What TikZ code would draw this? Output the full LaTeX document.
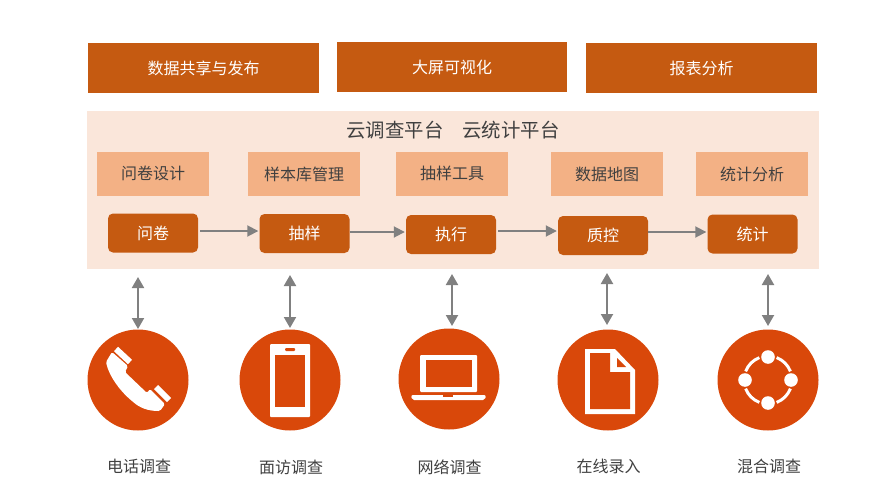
\documentclass[tikz,border=0pt]{standalone}
\usepackage{fontspec}
\setmainfont{Noto Sans CJK SC}
\usetikzlibrary{arrows.meta}
\definecolor{ocre}{RGB}{197,90,17}
\definecolor{pale}{RGB}{250,230,218}
\definecolor{peach}{RGB}{243,177,133}
\definecolor{brique}{RGB}{217,72,10}
\definecolor{fleche}{RGB}{128,128,128}
\definecolor{texte}{RGB}{64,64,64}
\tikzset{
  topbox/.style={fill=ocre,text=white,font=\fontsize{16}{16}\selectfont,inner sep=0pt,minimum width=230.5,minimum height=50},
  toolbox/.style={fill=peach,text=texte,font=\fontsize{16}{16}\selectfont,inner sep=0pt,minimum width=112,minimum height=44},
  stagebox/.style={fill=ocre,text=white,font=\fontsize{16}{16}\selectfont,inner sep=0pt,rounded corners=5,minimum width=90,minimum height=39},
  disc/.style={circle,fill=brique,inner sep=0pt,minimum size=101},
  caption/.style={text=texte,font=\fontsize{16}{16}\selectfont,inner sep=0pt},
  flow/.style={fleche,line width=1.8,-{Triangle[length=11,width=11]}},
  link/.style={fleche,line width=2,{Triangle[length=11,width=12]}-{Triangle[length=11,width=12]}}
}
\begin{document}
\begin{tikzpicture}[x=1pt,y=-1pt]
\useasboundingbox (0,0) rectangle (893,500);
% top row
\node [topbox] (share) at (203.5,68) {数据共享与发布};
\node [topbox] (screen) at (452,67) {大屏可视化};
\node [topbox] (report) at (701.5,68) {报表分析};
% platform
\fill [pale] (87,111) rectangle (819,269);
\node [text=texte,font=\fontsize{19.4}{19.4}\selectfont,inner sep=0pt] (platform) at (453,130) {云调查平台\hspace{19pt}云统计平台};
\node [toolbox] (design) at (153,173.5) {问卷设计};
\node [toolbox] (library) at (304,174) {样本库管理};
\node [toolbox] (tool) at (452,173.5) {抽样工具};
\node [toolbox] (map) at (607,174) {数据地图};
\node [toolbox] (stat) at (752,174) {统计分析};
\node [stagebox] (s1) at (153,233) {问卷};
\node [stagebox] (s2) at (304.5,233.5) {抽样};
\node [stagebox] (s3) at (451,234.5) {执行};
\node [stagebox] (s4) at (603,235.5) {质控};
\node [stagebox] (s5) at (752.5,234) {统计};
\draw [flow,shorten <=2,shorten >=1] (s1.east |- 0,231) -- (s2.west |- 0,231);
\draw [flow,shorten >=1] (s2.east |- 0,232) -- (s3.west |- 0,232);
\draw [flow,shorten <=2,shorten >=1] (s3.east |- 0,231) -- (s4.west |- 0,231);
\draw [flow,shorten >=1] (s4.east |- 0,232) -- (s5.west |- 0,232);
% discs
\node [disc] (i1) at (138,380) {};
\node [disc] (i2) at (290,380) {};
\node [disc] (i3) at (449,379) {};
\node [disc] (i4) at (608,380) {};
\node [disc] (i5) at (768,380) {};
\foreach \n/\xa/\ya/\yb in {1/138/277/329,2/290/275/328,3/452/274/326,4/607/273/325,5/768/274/326}{
  \coordinate (a\n) at (\xa,\ya);
  \coordinate (b\n) at (\xa,\yb);
  \draw [link] (a\n) -- (b\n);
}
% telephone
\begin{scope}[shift={(i1.center)}]
\fill [white,rounded corners=1.5] (-26,-28) -- (-10,-14) -- (-13,-8) -- (9,13) -- (12,9) -- (27,24) -- (22,31) .. controls (10,31) and (2,28) .. (-6,21) .. controls (-18,11) and (-29,-4) .. (-32,-18) -- cycle;
\draw [white,line width=6,rounded corners=1] (-22,-31) -- (-8,-18);
\draw [white,line width=6] (18,7) -- (31,20);
\end{scope}
% mobile
\begin{scope}[shift={(i2.center)}]
\fill [white,rounded corners=1] (-20,-36) rectangle (20,37);
\fill [brique] (-15,-25) rectangle (15,27);
\fill [brique,rounded corners=1] (-5,-32) rectangle (5,-29);
\end{scope}
% laptop
\begin{scope}[shift={(i3.center)}]
\fill [white,rounded corners=1] (-29,-24) rectangle (28,13);
\fill [brique] (-23,-19) rectangle (23,8);
\fill [white,rounded corners=2] (-38,16) -- (37,16) -- (36,21) -- (-37,21) -- cycle;
\fill [brique] (-6,16) rectangle (4,18);
\end{scope}
% document
\begin{scope}[shift={(i4.center)}]
\fill [white] (-23,-31) -- (7,-31) -- (27,-10) -- (27,34) -- (-23,34) -- cycle;
\fill [brique] (-18,-27) -- (2,-27) -- (2,-8) -- (22,-8) -- (22,29) -- (-18,29) -- cycle;
\fill [brique] (9,-22) -- (18,-13) -- (9,-13) -- cycle;
\end{scope}
% mixed
\begin{scope}[shift={(i5.center)}]
\foreach \a in {0,90,180,270}{
  \fill [white] (\a:23) circle (6.8);
  \draw [white,line width=3] (\a+21:24) arc [start angle=\a+21,delta angle=48,radius=24];
}
\end{scope}
% captions
\node [caption] (c1) at (139,466) {电话调查};
\node [caption] (c2) at (291,467) {面访调查};
\node [caption] (c3) at (449.5,467) {网络调查};
\node [caption] (c4) at (608.5,466) {在线录入};
\node [caption] (c5) at (769,466) {混合调查};
\end{tikzpicture}
\end{document}
